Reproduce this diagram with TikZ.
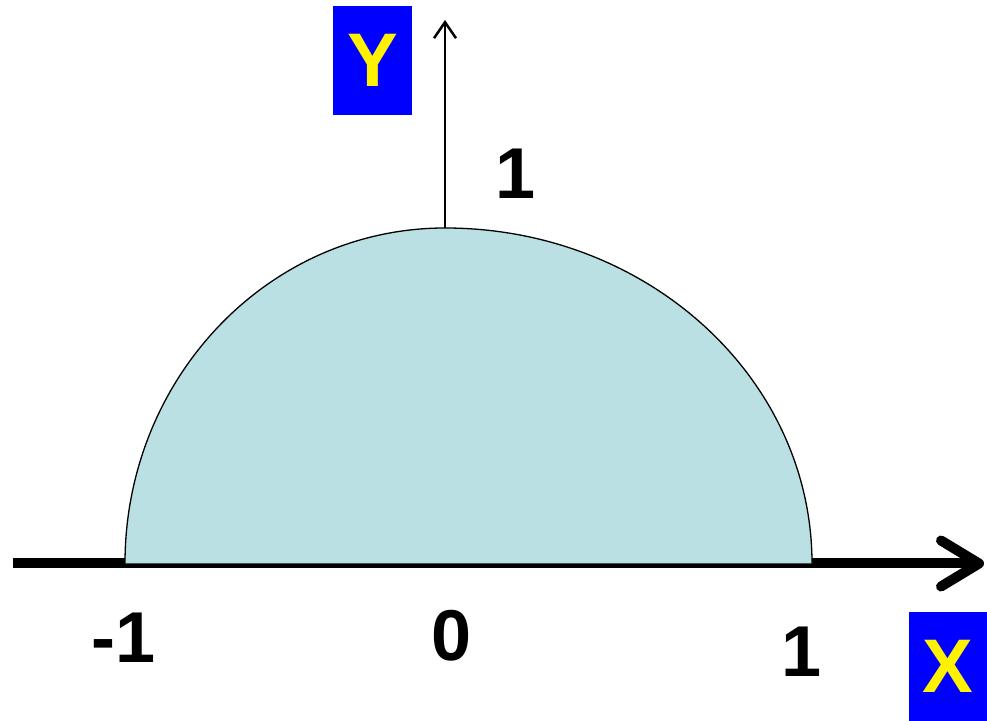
\documentclass[tikz,border=0pt]{standalone}
\usepackage{fontspec}
\setmainfont{Liberation Sans}
\usetikzlibrary{arrows.meta}
\definecolor{halfdisc}{RGB}{186,224,227}

\begin{document}
\begin{tikzpicture}[x=1pt,y=1pt,
    num/.style={font=\fontsize{72}{72}\selectfont\bfseries},
    axbox/.style={fill=blue,text=yellow,font=\fontsize{76}{76}\selectfont\bfseries,
      minimum width=79pt,minimum height=109pt,inner sep=0pt}]
	\useasboundingbox (0,0) rectangle (987,720);
	\coordinate (xl) at (13,156.5);
	\coordinate (xr) at (984,156.5);
	\coordinate (base l) at (125,156.5);
	\coordinate (top) at (445,492);
	\coordinate (yt) at (445,700);
	% axes
	\draw[line width=10pt,-{Straight Barb[length=38pt,width=46pt,round]}] (xl) -- (xr);
	\fill[halfdisc] (base l) arc[start angle=180,end angle=90,x radius=320,y radius=335.5]
		arc[start angle=90,end angle=0,x radius=367,y radius=335.5] -- cycle;
	\draw[line width=1.3pt] (base l) arc[start angle=180,end angle=90,x radius=320,y radius=335.5]
		arc[start angle=90,end angle=0,x radius=367,y radius=335.5];
	\draw[line width=2.5pt,-{Straight Barb[length=16pt,width=22pt]}] (top) -- (yt);
	% labels
	\node[axbox] (ybox) at (372.5,659.5) {Y};
	\node[axbox] (xbox) at (948,54) {X};
	\node[num] (yone) at (516,546) {1};
	\node[num] (xmone) at (124,82) {-1};
	\node[num] (xzero) at (452,84) {0};
	\node[num] (xone) at (802,68) {1};
\end{tikzpicture}
\end{document}
